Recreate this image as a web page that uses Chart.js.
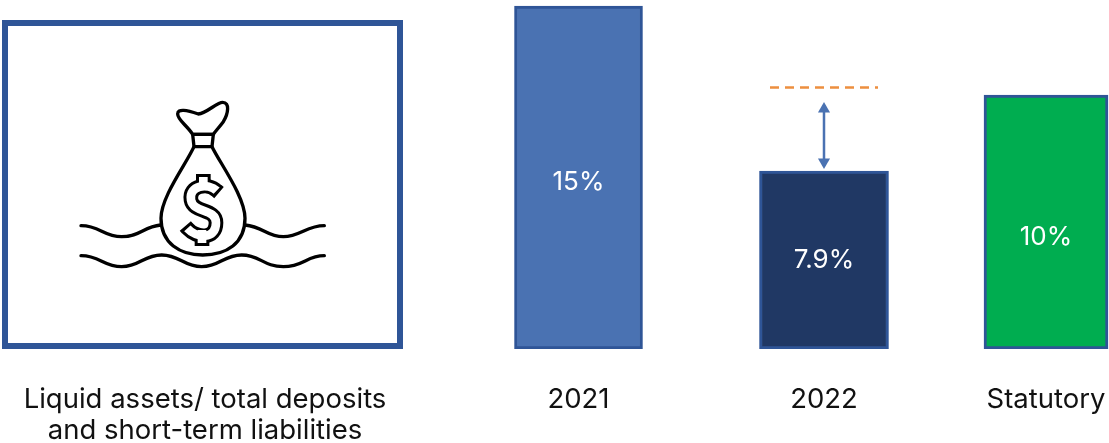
<!DOCTYPE html>
<html>
<head>
<meta charset="utf-8">
<style>
  html, body { margin: 0; padding: 0; background: #fff; }
  #wrap { position: relative; width: 1109px; height: 443px; }
</style>
<script src="https://cdn.jsdelivr.net/npm/chart.js@4"></script>
</head>
<body>
<div id="wrap"><canvas id="chart" width="1109" height="443"></canvas></div>
<script>
// Data
const categories = ['2021', '2022', 'Statutory'];
const ratios = [15, 7.9, 10];
const ratioLabels = ['15%', '7.9%', '10%'];
const panelCaption = ['Liquid assets/ total deposits', 'and short-term liabilities'];
const targetLine = [10.3, 10.3];
const gapArrow = [10.65, 8.3];

// Layout along the horizontal axis
const panelCentre = 205;
const barCentres = [578.5, 824, 1046];
const barWidths = [128, 129, 124];
const targetLineEnds = [770, 878];

// The three columns are an infographic, each with its own vertical extent
const axisMaximums = [15.262, 15.489, 13.74];
const axisIds = ['y2021', 'y2022', 'yStatutory'];
const labelFractions = [0.487, 0.5, 0.44];

const barFills = ['#4A72B2', '#203864', '#00AD50'];
const barEdge = '#2F5597';
const inkColour = '#111111';
const fontFamily = 'Inter, "Noto Sans", sans-serif';

const tickValues = [panelCentre, ...barCentres];
const tickCaptions = [panelCaption, ...categories];

const barDatasets = categories.map((name, i) => ({
  type: 'bar',
  label: name,
  data: [{ x: barCentres[i], y: ratios[i] }],
  yAxisID: axisIds[i],
  backgroundColor: barFills[i],
  borderColor: barEdge,
  borderWidth: 3,
  borderSkipped: false,
  barThickness: barWidths[i],
  grouped: false,
  order: 2
}));

const targetDataset = {
  type: 'line',
  label: 'Statutory level',
  data: targetLineEnds.map((x, i) => ({ x, y: targetLine[i] })),
  yAxisID: 'yStatutory',
  borderColor: '#ED8F3F',
  borderWidth: 2.5,
  borderDash: [9, 6],
  pointRadius: 0,
  order: 1
};

const arrowDataset = {
  type: 'line',
  label: 'Shortfall',
  data: gapArrow.map(y => ({ x: barCentres[1], y })),
  yAxisID: 'y2022',
  borderColor: '#4A72B2',
  borderWidth: 2.5,
  pointStyle: 'triangle',
  pointRadius: 7,
  pointRotation: [0, 180],
  pointBackgroundColor: '#4A72B2',
  pointBorderWidth: 0,
  order: 1
};

// Money bag floating on waves, outlined in a 3x coordinate space
const iconStrokes = [
  'M243 677 C300 677,310 710,365 710 S430 680,482 675',
  'M735 675 C790 680,800 710,850 710 S920 677,973 677',
  'M243 767 C300 767,310 800,365 800 S430 765,485 765 S550 800,605 800 S670 765,725 765 S790 800,850 800 S920 767,973 767',
  'M582 440 C560 490,483 590,483 655 C483 730,540 765,608 765 C680 765,735 730,735 655 C735 590,660 490,636 440',
  'M578 403 C560 375,533 360,533 342 C533 325,560 330,595 342 C620 340,650 307,668 307 C690 307,685 340,670 365 C655 385,645 395,640 403 Z',
  'M578 403 L640 403 L636 440 L582 440 Z'
];
// Dollar sign: the outer paths run slightly past the inner ones to close the ends
const dollarOuter = [
  'M610 522 L610 570',
  'M606 690 L606 738',
  'M657 578 L650 572 C625 548,565 555,573 600 C580 640,648 625,648 668 C648 720,590 715,562 685 L556 678'
];
const dollarInner = [
  'M610 531 L610 570',
  'M606 690 L606 729',
  'M650 572 C625 548,565 555,573 600 C580 640,648 625,648 668 C648 720,590 715,562 685'
];

const panelAndIcon = {
  id: 'panelAndIcon',
  beforeDatasetsDraw(chart) {
    const ctx = chart.ctx;
    ctx.save();
    ctx.strokeStyle = barEdge;
    ctx.lineWidth = 6;
    ctx.strokeRect(5, 23, 395, 323);

    ctx.scale(1 / 3, 1 / 3);
    ctx.strokeStyle = '#000';
    ctx.lineWidth = 10;
    ctx.lineCap = 'round';
    ctx.lineJoin = 'round';
    iconStrokes.forEach(d => ctx.stroke(new Path2D(d)));

    ctx.lineCap = 'butt';
    ctx.lineJoin = 'miter';
    ctx.lineWidth = 44;
    dollarOuter.forEach(d => ctx.stroke(new Path2D(d)));
    ctx.strokeStyle = '#fff';
    ctx.lineWidth = 26;
    dollarInner.forEach(d => ctx.stroke(new Path2D(d)));
    ctx.restore();
  }
};

const barValueLabels = {
  id: 'barValueLabels',
  afterDatasetsDraw(chart) {
    const ctx = chart.ctx;
    ctx.save();
    ctx.fillStyle = '#fff';
    ctx.font = '26px ' + fontFamily;
    ctx.textAlign = 'center';
    ctx.textBaseline = 'middle';
    categories.forEach((_, i) => {
      const bar = chart.getDatasetMeta(i).data[0];
      const y = bar.base + (bar.y - bar.base) * labelFractions[i];
      ctx.fillText(ratioLabels[i], bar.x, y);
    });
    ctx.restore();
  }
};

const hiddenAxis = max => ({ display: false, min: 0, max });

new Chart(document.getElementById('chart'), {
  data: { datasets: [...barDatasets, targetDataset, arrowDataset] },
  plugins: [panelAndIcon, barValueLabels],
  options: {
    responsive: false,
    animation: false,
    layout: { padding: 0, autoPadding: false },
    plugins: { legend: { display: false }, tooltip: { enabled: false } },
    scales: {
      x: {
        type: 'linear',
        min: 0,
        max: 1109,
        offset: false,
        grid: { display: false },
        border: { display: false },
        afterBuildTicks(scale) { scale.ticks = tickValues.map(value => ({ value })); },
        afterFit(scale) { scale.height = 94; scale.paddingLeft = 0; scale.paddingRight = 0; },
        ticks: {
          autoSkip: false,
          maxRotation: 0,
          padding: 27,
          color: inkColour,
          font: { family: fontFamily, size: 27.5, lineHeight: 1.13 },
          callback(value) { return tickCaptions[tickValues.indexOf(value)]; }
        }
      },
      y2021: hiddenAxis(axisMaximums[0]),
      y2022: hiddenAxis(axisMaximums[1]),
      yStatutory: hiddenAxis(axisMaximums[2])
    }
  }
});
</script>
</body>
</html>
